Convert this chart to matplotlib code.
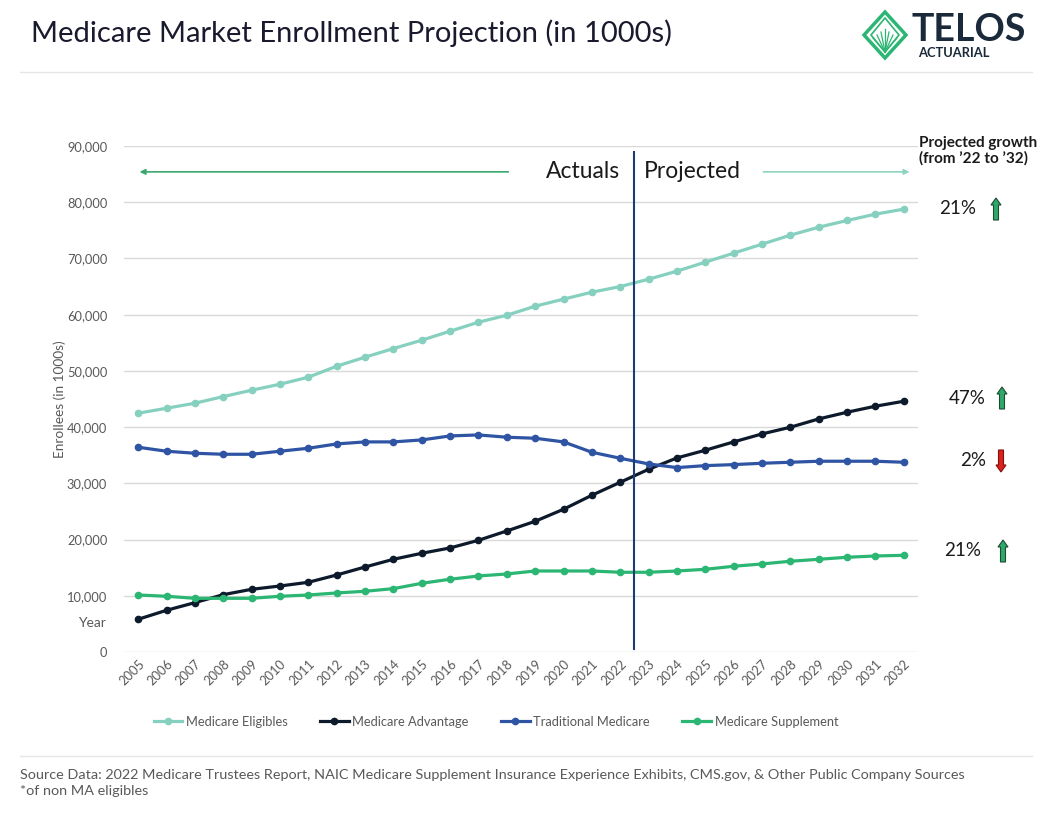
import matplotlib
matplotlib.use("Agg")
import matplotlib.pyplot as plt
from matplotlib.patches import Polygon, FancyArrow
import numpy as np

plt.rcParams['font.family'] = ['Lato', 'DejaVu Sans']

years = list(range(2005, 2033))
eligibles = [42470, 43360, 44250, 45430, 46560, 47630, 48880, 50830, 52440, 53970,
             55460, 57060, 58660, 59900, 61510, 62760, 64000, 65000, 66310, 67740,
             69340, 70940, 72540, 74140, 75560, 76750, 77880, 78770]
advantage = [5820, 7420, 8780, 10200, 11150, 11740, 12400, 13700, 15120, 16490,
             17560, 18510, 19870, 21530, 23250, 25390, 27880, 30190, 32500, 34520,
             35890, 37370, 38790, 39980, 41460, 42650, 43720, 44600]
traditional = [36420, 35710, 35350, 35170, 35170, 35710, 36240, 37010, 37370, 37370,
               37720, 38430, 38610, 38200, 38020, 37370, 35530, 34460, 33450, 32800,
               33150, 33330, 33570, 33750, 33930, 33930, 33930, 33750]
supplement = [10140, 9910, 9550, 9550, 9550, 9910, 10140, 10500, 10800, 11270,
              12220, 12940, 13520, 13880, 14410, 14410, 14410, 14180, 14180, 14410,
              14710, 15250, 15660, 16140, 16490, 16850, 17080, 17200]
series_names = ["Medicare Eligibles", "Medicare Advantage", "Traditional Medicare", "Medicare Supplement"]
series_colors = ["#86d0bf", "#0d1a2b", "#2f54a3", "#2bb673"]
growth_labels = ["21%", "47%", "2%", "21%"]
growth_up = [True, True, False, True]
yticks = [0, 10000, 20000, 30000, 40000, 50000, 60000, 70000, 80000, 90000]

W, H = 1056, 816
fig = plt.figure(figsize=(W / 100, H / 100), dpi=100)
ax = fig.add_axes([124 / W, 1 - 652 / H, (918 - 124) / W, (652 - 146) / H])

for vals, name, col in zip([eligibles, advantage, traditional, supplement], series_names, series_colors):
    ax.plot(years, vals, color=col, lw=2.3, marker='o', ms=4.5, label=name, zorder=3)

ax.set_xlim(2004.5, 2032.5)
ax.set_ylim(0, 90000)
ax.set_yticks(yticks)
ax.set_yticklabels([f"{v:,}" for v in yticks], color="#595959", fontsize=9.3)
ax.set_xticks(years)
ax.set_xticklabels([str(y) for y in years], rotation=45, ha='right', rotation_mode='anchor',
                   color="#595959", fontsize=9.3)
ax.tick_params(axis='both', length=0)
ax.tick_params(axis='y', pad=12)
ax.tick_params(axis='x', pad=4)
ax.grid(axis='y', color="#d9d9d9", lw=1)
ax.set_axisbelow(True)
for s in ax.spines.values():
    s.set_visible(False)

# Actual / projected divider
ax.plot([2022.5, 2022.5], [600, 88900], color="#1f3b73", lw=1.5, zorder=4)
ax.text(2022.0, 85400, "Actuals", ha='right', va='center', fontsize=16.5, color="#1a1a1a")
ax.text(2022.82, 85400, "Projected", ha='left', va='center', fontsize=16.5, color="#1a1a1a")
ax.annotate("", xy=(2004.95, 85400), xytext=(2018.15, 85400),
            arrowprops=dict(arrowstyle='-|>', color="#3aa76d", lw=1.2, mutation_scale=8))
ax.annotate("", xy=(2032.3, 85400), xytext=(2026.95, 85400),
            arrowprops=dict(arrowstyle='-|>', color="#8fd3c1", lw=1.2, mutation_scale=8))

ax.set_ylabel("Enrollees (in 1000s)", color="#595959", fontsize=9.8)
ax.yaxis.set_label_coords(-0.073, 0.5)
fig.text(92 / W, 1 - 623 / H, "Year", ha='center', va='center', color="#595959", fontsize=10)

leg = ax.legend(loc='center', bbox_to_anchor=(496 / W, 1 - 722 / H), bbox_transform=fig.transFigure,
                ncol=4, frameon=False, fontsize=9.3, handlelength=2.2, columnspacing=2.5,
                handletextpad=0.3)
for t in leg.get_texts():
    t.set_color("#595959")

# Overlay in pixel coordinates
ov = fig.add_axes([0, 0, 1, 1], zorder=10)
ov.set_xlim(0, W)
ov.set_ylim(H, 0)
ov.axis('off')
ov.patch.set_alpha(0)

ov.text(31, 33, "Medicare Market Enrollment Projection (in 1000s)", fontsize=21,
        color="#1a1a2e", va='center', ha='left')
ov.plot([20, 1032], [72, 72], color="#e6e6e6", lw=1)
ov.plot([20, 1032], [756, 756], color="#e6e6e6", lw=1)

ov.text(20, 775, "Source Data: 2022 Medicare Trustees Report, NAIC Medicare Supplement Insurance Experience Exhibits, CMS.gov, & Other Public Company Sources",
        fontsize=10.4, color="#595959", va='center', ha='left')
ov.text(20, 791, "*of non MA eligibles", fontsize=10.4, color="#595959", va='center', ha='left')

# Logo
cx, cy = 885, 35
dw, dh = 21, 23
green = "#2bb673"
ov.add_patch(Polygon([[cx, cy - dh], [cx + dw, cy], [cx, cy + dh], [cx - dw, cy]], closed=True,
                     fill=False, edgecolor=green, lw=2.5))
ov.add_patch(Polygon([[cx, cy - dh + 6], [cx + dw - 7, cy], [cx, cy + dh - 6], [cx - dw + 7, cy]], closed=True,
                     fill=False, edgecolor=green, lw=1.2))
for k in range(-3, 4):
    ov.plot([cx, cx + k * 4], [cy + dh - 6, cy - 6 + abs(k) * 3], color=green, lw=0.9)
ov.text(911, 30, "TELOS", fontsize=27, fontweight='bold', color="#1b2a3a", va='center', ha='left')
ov.text(918, 53, "ACTUARIAL", fontsize=9.3, fontweight='bold', color="#1b2a3a", va='center', ha='left')

# Growth annotations
ov.text(919, 143, "Projected growth", fontsize=11, fontweight='bold', color="#1a1a1a", va='center', ha='left')
ov.text(919, 158, "(from \u201922 to \u201932)", fontsize=11, fontweight='bold', color="#1a1a1a", va='center', ha='left')
label_y = [209, 398, 461, 551]
label_xr = [976, 986, 986, 981]
arrow_x = [996, 1002, 1001, 1003]
for lab, yy, xr, axx, up in zip(growth_labels, label_y, label_xr, arrow_x, growth_up):
    ov.text(xr, yy, lab, fontsize=13.5, color="#1a1a1a", va='center', ha='right')
    if up:
        ov.add_patch(FancyArrow(axx, yy + 11, 0, -22, width=5, head_width=10, head_length=7,
                                length_includes_head=True, facecolor="#2ea96a", edgecolor="#1d4a33", lw=0.8))
    else:
        ov.add_patch(FancyArrow(axx, yy - 11, 0, 22, width=5, head_width=10, head_length=7,
                                length_includes_head=True, facecolor="#e0201b", edgecolor="#7a1210", lw=0.8))

fig.savefig("out.png", dpi=100, facecolor="white")
